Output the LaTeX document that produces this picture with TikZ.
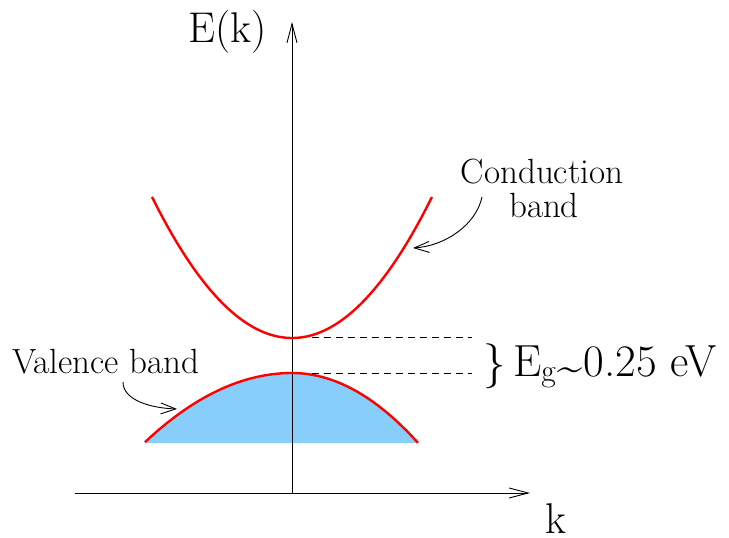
\documentclass[tikz,border=0pt]{standalone}
\usetikzlibrary{arrows.meta}
\definecolor{bandblue}{RGB}{135,206,250}
\tikzset{
  axisline/.style={line width=0.9pt,-{Straight Barb[length=19pt,width=10pt,line width=0.9pt]}},
  band/.style={red,line width=2.4pt},
  gapline/.style={line width=0.9pt,dash pattern=on 7pt off 5pt},
  pointer/.style={line width=0.9pt,-{Straight Barb[length=15pt,width=11pt,line width=0.9pt]}},
  bigtext/.style={inner sep=0pt,font=\fontsize{43}{46}\selectfont},
  gaptext/.style={inner sep=0pt,font=\fontsize{45}{48}\selectfont},
  labeltext/.style={inner sep=0pt,font=\fontsize{35}{38}\selectfont}
}
\begin{document}
\begin{tikzpicture}[x=1pt,y=-1pt]
\useasboundingbox (0,0) rectangle (729,538);
% valence band fill
\fill[bandblue] plot[domain=-1.47:0,samples=60] ({292+100*\x},{373+32*\x*\x})
  -- plot[domain=0:1.26,samples=60] ({292+100*\x},{373+44*\x*\x}) -- (418,443) -- (145,443) -- cycle;
% axes
\coordinate (yorig) at (292,493);
\coordinate (ytip) at (292,22);
\coordinate (xstart) at (75,493);
\coordinate (xtip) at (530,493);
\draw[axisline] (yorig) -- (ytip);
\draw[axisline] (xstart) -- (xtip);
% bands
\draw[band] plot[domain=-1.4:1.4,samples=100] ({292+100*\x},{338-72*\x*\x});
\draw[band] plot[domain=-1.47:0,samples=60] ({292+100*\x},{373+32*\x*\x});
\draw[band] plot[domain=0:1.26,samples=60] ({292+100*\x},{373+44*\x*\x});
% gap lines
\coordinate (cmin) at (312,337);
\coordinate (cend) at (472,337);
\coordinate (vmax) at (312,373);
\coordinate (vend) at (472,373);
\draw[gapline] (cmin) -- (cend);
\draw[gapline] (vmax) -- (vend);
% texts
\node[bigtext,anchor=base west] (ek) at (188,42) {E(k)};
\node[bigtext,anchor=base west] (kk) at (545,533) {k};
\node[gaptext,anchor=base west] (brace) at (483,377) {\}};
\node[gaptext,anchor=base west] (eg) at (513,376) {E\textsubscript{g}\hspace{1pt}\raisebox{-0.3ex}{\textasciitilde}\hspace{1pt}0.25 eV};
\node[labeltext,anchor=base] (cond) at (542,183) {Conduction};
\node[labeltext,anchor=base] (condb) at (544,217) {band};
\node[labeltext,anchor=base west] (val) at (12,373) {Valence band};
% pointers
\coordinate (cp0) at (482,197);
\coordinate (cp1) at (413,248);
\coordinate (vp0) at (123,382);
\coordinate (vp1) at (177,409);
\draw[pointer] (cp0) .. controls (476,225) and (445,246) .. (cp1);
\draw[pointer] (vp0) .. controls (123,400) and (150,408) .. (vp1);
\end{tikzpicture}
\end{document}
